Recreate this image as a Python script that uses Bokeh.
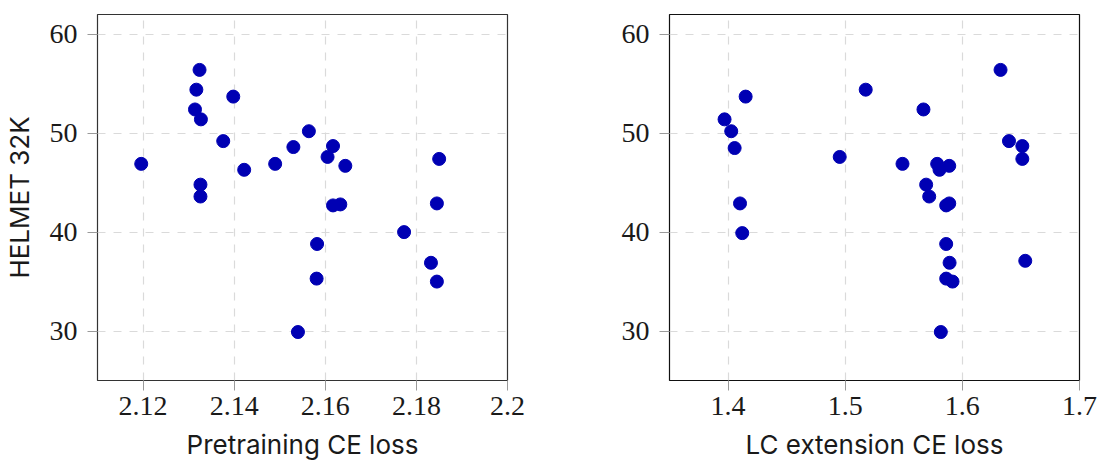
from bokeh.plotting import figure
from bokeh.layouts import row
from bokeh.models import FixedTicker
from bokeh.embed import file_html
from bokeh.resources import INLINE

# Left panel: pretraining CE loss vs HELMET 32K
pretrain_ce = [2.1196, 2.1324, 2.1317, 2.1314, 2.1327, 2.1398, 2.1376, 2.1422, 2.1326, 2.1326,
               2.1490, 2.1530, 2.1564, 2.1617, 2.1605, 2.1644, 2.1617, 2.1633, 2.1582, 2.1581,
               2.1540, 2.1850, 2.1845, 2.1773, 2.1832, 2.1845]
helmet_pre = [46.9, 56.4, 54.4, 52.4, 51.4, 53.7, 49.2, 46.3, 44.8, 43.6,
              46.9, 48.6, 50.2, 48.7, 47.6, 46.7, 42.7, 42.8, 38.8, 35.3,
              29.9, 47.4, 42.9, 40.0, 36.9, 35.0]

# Right panel: LC extension CE loss vs HELMET 32K
lc_ce = [1.6326, 1.5175, 1.5668, 1.6398, 1.6512, 1.6512, 1.4953, 1.5489, 1.5785, 1.5888,
         1.5805, 1.5691, 1.5717, 1.5862, 1.5888, 1.5862, 1.5891, 1.5862, 1.5916, 1.5816,
         1.6537, 1.4150, 1.3970, 1.4027, 1.4056, 1.4102, 1.4121]
helmet_lc = [56.4, 54.4, 52.4, 49.2, 48.7, 47.4, 47.6, 46.9, 46.9, 46.7,
             46.3, 44.8, 43.6, 42.7, 42.9, 38.8, 36.9, 35.3, 35.0, 29.9,
             37.1, 53.7, 51.4, 50.2, 48.5, 42.9, 39.9]

left_xticks = [2.12, 2.14, 2.16, 2.18, 2.2]
left_xlabels = ["2.12", "2.14", "2.16", "2.18", "2.2"]
right_xticks = [1.4, 1.5, 1.6, 1.7]
right_xlabels = ["1.4", "1.5", "1.6", "1.7"]
yticks = [30, 40, 50, 60]
ylabels = ["30", "40", "50", "60"]

DOT = "#0000B3"
TICK_FONT = "Liberation Serif"
LABEL_FONT = "Inter"


def style(p, xticks, xlabels, xlabel, ylabel):
    p.xaxis.ticker = FixedTicker(ticks=xticks)
    p.xaxis.major_label_overrides = {t: l for t, l in zip(xticks, xlabels)}
    p.yaxis.ticker = FixedTicker(ticks=yticks)
    p.yaxis.major_label_overrides = {t: l for t, l in zip(yticks, ylabels)}
    for ax in (p.xaxis[0], p.yaxis[0]):
        ax.axis_line_color = None
        ax.major_tick_in = 0
        ax.major_tick_out = 10
        ax.major_tick_line_color = "#9a9a9a"
        ax.major_tick_line_width = 1
        ax.minor_tick_line_color = None
        ax.major_label_text_font = TICK_FONT
        ax.major_label_text_font_size = "28px"
        ax.major_label_text_color = "#1a1a1a"
        ax.axis_label_text_font = LABEL_FONT
        ax.axis_label_text_font_size = "26px"
        ax.axis_label_text_font_style = "normal"
        ax.axis_label_text_color = "#1a1a1a"
    p.xaxis.major_label_standoff = 6
    p.yaxis.major_label_standoff = 10
    p.xaxis.axis_label_standoff = 11
    p.yaxis.axis_label_standoff = 12
    p.xaxis.axis_label = xlabel
    if ylabel:
        p.yaxis.axis_label = ylabel
    for g in (p.xgrid[0], p.ygrid[0]):
        g.grid_line_color = "#dadada"
        g.grid_line_dash = "8 8"
        g.grid_line_width = 1.2
    p.outline_line_color = "#333333"
    p.outline_line_width = 1.2
    p.background_fill_color = "white"
    p.border_fill_color = "white"


left = figure(width=560, height=465, x_range=(2.11, 2.2), y_range=(25, 62),
              output_backend="svg", toolbar_location=None,
              min_border_left=97, min_border_right=53, min_border_top=8, min_border_bottom=85)
left.scatter(x=pretrain_ce, y=helmet_pre, size=13, marker="circle", color=DOT)
style(left, left_xticks, left_xlabels, "Pretraining CE loss", "HELMET 32K")

right = figure(width=539, height=465, x_range=(1.35, 1.7), y_range=(25, 62),
               output_backend="svg", toolbar_location=None,
               min_border_left=109, min_border_right=20, min_border_top=14, min_border_bottom=79)
right.scatter(x=lc_ce, y=helmet_lc, size=13, marker="circle", color=DOT)
style(right, right_xticks, right_xlabels, "LC extension CE loss", None)
right.outline_line_color = "#111111"

layout = row(left, right, spacing=0)
open("out.html", "w").write(file_html(layout, INLINE))
